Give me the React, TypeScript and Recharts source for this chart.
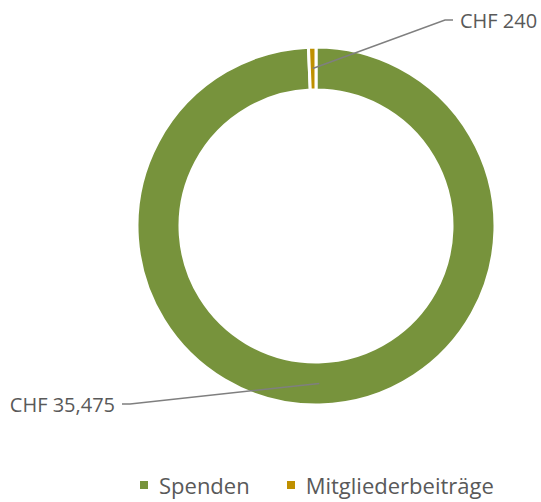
import React from 'react';
import { PieChart, Pie, Cell, Legend } from 'recharts';

const categories = ['Spenden', 'Mitgliederbeiträge'];
const values = [35475, 240];
const valueLabels = ['CHF 35,475', 'CHF 240'];
const colors = ['#77933C', '#BF9000'];

const FONT = '"Open Sans", "Noto Sans", sans-serif';
const TEXT_COLOR = '#595959';
const LINE_COLOR = '#7F7F7F';

// leader-line layout (elbow offsets relative to pie centre)
const labelLayout = [
  { ex: -186, ey: 178, dir: -1 },
  { ex: 129, ey: -206, dir: 1 },
];

const data = categories.map((name, i) => ({ name, value: values[i], label: valueLabels[i] }));

const RAD = Math.PI / 180;

function renderLabel(props: any) {
  const { cx, cy, midAngle, innerRadius, outerRadius, index } = props;
  const r = (innerRadius + outerRadius) / 2;
  const sx = cx + r * Math.cos(-midAngle * RAD);
  const sy = cy + r * Math.sin(-midAngle * RAD);
  const L = labelLayout[index];
  const ex = cx + L.ex;
  const ey = cy + L.ey;
  const hx = ex + L.dir * 8;
  const tx = hx + L.dir * 7;
  return (
    <g key={`lbl-${index}`}>
      <polyline
        points={`${sx},${sy} ${ex},${ey} ${hx},${ey}`}
        fill="none"
        stroke={LINE_COLOR}
        strokeWidth={1.5}
      />
      <text
        x={tx}
        y={ey}
        textAnchor={L.dir > 0 ? 'start' : 'end'}
        dominantBaseline="central"
        fill={TEXT_COLOR}
        fontFamily={FONT}
        fontSize={20}
      >
        {data[index].label}
      </text>
    </g>
  );
}

function LegendContent() {
  return (
    <div style={{ display: 'flex', alignItems: 'center', fontFamily: FONT, fontSize: 22, color: TEXT_COLOR, lineHeight: '30px' }}>
      {categories.map((c, i) => (
        <span key={c} style={{ display: 'flex', alignItems: 'center', marginRight: i === 0 ? 37 : 0 }}>
          <span style={{ display: 'inline-block', width: 8, height: 8, background: colors[i], marginRight: 11 }} />
          {c}
        </span>
      ))}
    </div>
  );
}

export default function App() {
  return (
    <div style={{ position: 'absolute', left: 0, top: 0, width: 541, height: 502, background: '#fff' }}>
      <PieChart width={541} height={502} margin={{ top: 0, right: 0, bottom: 0, left: 0 }}>
        <Pie
          data={data}
          dataKey="value"
          nameKey="name"
          cx={316}
          cy={226}
          innerRadius={136}
          outerRadius={179}
          startAngle={90}
          endAngle={-270}
          stroke="#ffffff"
          strokeWidth={3}
          label={renderLabel}
          labelLine={false}
          isAnimationActive={false}
        >
          {data.map((d, i) => (
            <Cell key={d.name} fill={colors[i]} />
          ))}
        </Pie>
        <Legend
          content={<LegendContent />}
          wrapperStyle={{ position: 'absolute', left: 140, top: 470, width: 400, height: 30 }}
        />
      </PieChart>
    </div>
  );
}
